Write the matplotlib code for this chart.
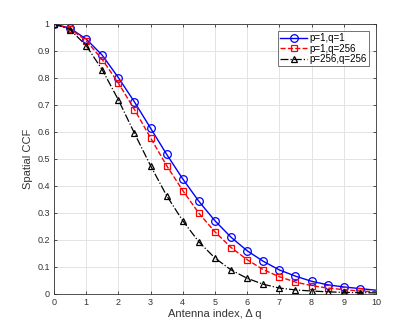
import numpy as np
import matplotlib
matplotlib.use('Agg')
import matplotlib.pyplot as plt

plt.rcParams['font.family'] = ['Liberation Sans', 'DejaVu Sans']

# antenna index (markers every 0.5)
dq = [0, 0.5, 1, 1.5, 2, 2.5, 3, 3.5, 4, 4.5, 5, 5.5, 6, 6.5, 7, 7.5, 8, 8.5, 9, 9.5, 10]

ccf_p1_q1 = [1.0, 0.984, 0.944, 0.884, 0.801, 0.711, 0.614, 0.517, 0.426, 0.343, 0.271,
             0.210, 0.160, 0.121, 0.089, 0.066, 0.047, 0.034, 0.026, 0.020, 0.014]
ccf_p1_q256 = [1.0, 0.982, 0.938, 0.868, 0.781, 0.683, 0.578, 0.475, 0.383, 0.299, 0.230,
               0.172, 0.127, 0.090, 0.064, 0.044, 0.031, 0.022, 0.016, 0.011, 0.008]
ccf_p256_q256 = [1.0, 0.979, 0.920, 0.830, 0.719, 0.595, 0.475, 0.364, 0.271, 0.193, 0.133,
                 0.089, 0.058, 0.036, 0.022, 0.015, 0.011, 0.008, 0.006, 0.005, 0.004]

labels = ['p=1,q=1', 'p=1,q=256', 'p=256,q=256']

txt = '#333333'

fig = plt.figure(figsize=(4.15, 3.32), dpi=100)
ax = fig.add_axes([0.130, 0.1145, 0.776, 0.8135])

x = np.array(dq)
every = list(range(len(dq) - 1))  # no marker at the last point
ax.plot(x, ccf_p1_q1, '-', color='#0000ff', lw=1.0, marker='o', markevery=every,
        ms=5.5, mfc='none', mew=0.9, label=labels[0])
ax.plot(x, ccf_p1_q256, '--', color='#ff0000', lw=1.0, marker='s', markevery=every,
        ms=4.5, mfc='none', mew=0.9, label=labels[1])
ax.plot(x, ccf_p256_q256, '-.', color='black', lw=0.9, marker='^', markevery=every,
        ms=5, mfc='none', mew=0.9, label=labels[2])

ax.set_xlim(0, 10)
ax.set_ylim(0, 1)
ax.set_xticks(range(0, 11))
ax.set_yticks(np.arange(0, 1.01, 0.1))
ax.set_yticklabels(['0', '0.1', '0.2', '0.3', '0.4', '0.5', '0.6', '0.7', '0.8', '0.9', '1'])
ax.grid(True, color='#e3e3e3', lw=0.7)
ax.set_axisbelow(True)
ax.tick_params(labelsize=6.5, colors=txt, direction='in', length=2.5, width=0.6,
               top=True, right=True, pad=3)
for s in ax.spines.values():
    s.set_color(txt)
    s.set_linewidth(0.6)

ax.set_xlabel('Antenna index, Δ q', fontsize=8, color=txt, labelpad=1)
ax.set_ylabel('Spatial CCF', fontsize=8, color=txt, labelpad=3)

leg = ax.legend(loc='upper right', fontsize=7, frameon=True, fancybox=False,
                edgecolor=txt, borderaxespad=0.75, handlelength=2.8,
                borderpad=0.2, labelspacing=0.05, handletextpad=0.2)
leg.get_frame().set_linewidth(0.6)

fig.savefig('out.png', dpi=100)
